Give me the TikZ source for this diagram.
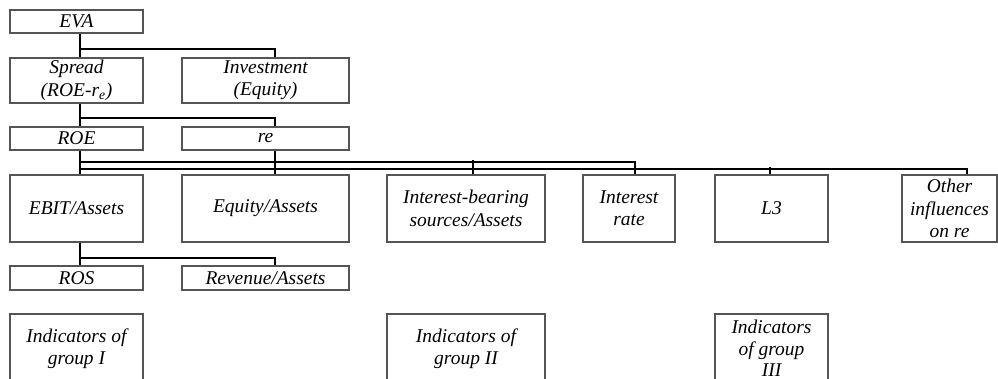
\documentclass[tikz,border=0pt]{standalone}
\usepackage{fontspec}
\setmainfont{Liberation Serif}
\usetikzlibrary{calc}
\definecolor{boxgray}{HTML}{555555}
\begin{document}
\begin{tikzpicture}[x=0.75pt,y=-0.75pt,
  bx/.style={draw=boxgray, line width=0.8pt, inner sep=0pt, align=center,
    font=\itshape\fontsize{14.6pt}{16.8pt}\selectfont},
  sz/.style 2 args={minimum width=#1*0.75pt, minimum height=#2*0.75pt},
  conn/.style={draw=black, line width=1.5pt}]
\clip (0,0) rectangle (998,378);
\fill[white] (0,0) rectangle (998,378);
% boxes
\node[bx, sz={133}{23}] (eva) at (76.5,21.5) {EVA};
\node[bx, sz={133}{45}] (spread) at (76.5,80.5) {Spread\\(ROE-r\textsubscript{e})};
\node[bx, sz={167}{45}] (inv) at (265.5,80.5) {Investment\\(Equity)};
\node[bx, sz={133}{23}] (roe) at (76.5,138.5) {ROE};
\node[bx, sz={167}{23}] (re) at (265.5,138.5) {re};
\node[bx, sz={133}{67}] (ebit) at (76.5,208.5) {EBIT/Assets};
\node[bx, sz={167}{67}] (eqa) at (265.5,208.5) {Equity/Assets};
\node[bx, sz={158}{67}] (ibs) at (466,208.5) {Interest-bearing\\sources/Assets};
\node[bx, sz={92}{67}] (ir) at (629,208.5) {Interest\\rate};
\node[bx, sz={113}{67}] (l3) at (771.5,208.5) {L3};
\node[bx, sz={95}{67}] (oth) at (949.5,208.5) {Other\\influences\\on re};
\node[bx, sz={133}{24}] (ros) at (76.5,278) {ROS};
\node[bx, sz={167}{24}] (rev) at (265.5,278) {Revenue/Assets};
\node[bx, sz={133}{69}] (g1) at (76.5,348.5) {Indicators of\\group I};
\node[bx, sz={158}{69}] (g2) at (466,348.5) {Indicators of\\group II};
\node[bx, sz={113}{69}, font=\itshape\fontsize{14.6pt}{16.2pt}\selectfont] (g3) at (771.5,348.5) {Indicators\\of group\\III};
% connectors
\draw[conn] ($(eva.south)+(3.5,0)$) -- ($(spread.north)+(3.5,0)$);
\draw[conn] ($(eva.south)+(3.5,15)$) -| ($(inv.north)+(9.5,0)$);
\draw[conn] ($(spread.south)+(3.5,0)$) -- ($(roe.north)+(3.5,0)$);
\draw[conn] ($(spread.south)+(3.5,14)$) -| ($(re.north)+(9.5,0)$);
\draw[conn] ($(roe.south)+(3.5,0)$) -- ($(ebit.north)+(3.5,0)$);
\draw[conn] ($(re.south)+(9.5,0)$) -- ($(eqa.north)+(9.5,0)$);
\draw[conn] ($(roe.south)+(3.5,11)$) -| ($(ir.north)+(5.5,0)$);
\draw[conn] ($(ibs.north)+(6.5,-14)$) -- ($(ibs.north)+(6.5,0)$);
\draw[conn] ($(roe.south)+(3.5,18)$) -| ($(oth.north)+(17.5,0)$);
\draw[conn] ($(l3.north)+(-1.5,-7)$) -- ($(l3.north)+(-1.5,0)$);
\draw[conn] ($(ebit.south)+(3.5,0)$) -- ($(ros.north)+(3.5,0)$);
\draw[conn] ($(ebit.south)+(3.5,15)$) -| ($(rev.north)+(9.5,0)$);
\end{tikzpicture}
\end{document}
